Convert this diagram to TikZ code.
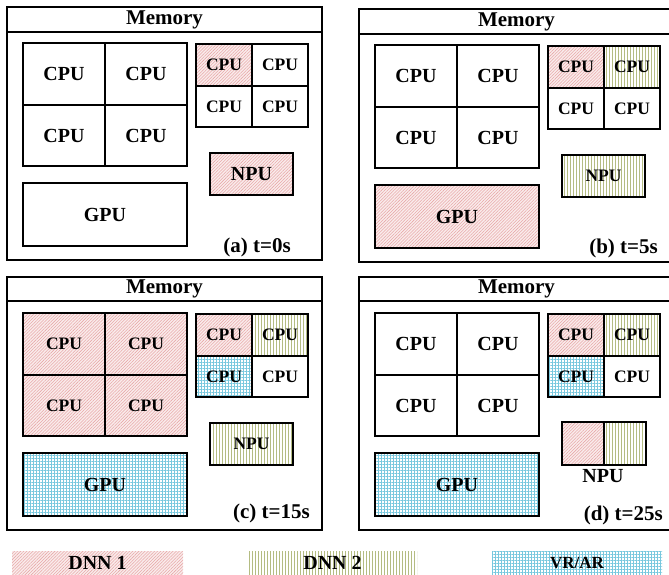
\documentclass[tikz,border=0pt]{standalone}
\usepackage{fontspec}
\setmainfont{Liberation Serif}
\usetikzlibrary{patterns.meta}
\definecolor{dnnAc}{RGB}{232,168,168}
\definecolor{dnnAbg}{RGB}{250,236,236}
\definecolor{dnnBc}{RGB}{180,188,130}
\definecolor{vrc}{RGB}{120,200,222}
\newcommand\cellbox[7]{\node[cellb,#6,minimum width={#4pt-#2pt},minimum height={#5pt-#3pt}] (#1) at ({(#2+#4)/2},{(#3+#5)/2}) {#7};}
\tikzset{
  cellb/.style={draw=black, line width=1.6pt, inner sep=0pt, outer sep=0pt},
  plain/.style={fill=white},
  dnnA/.style={preaction={fill=dnnAbg}, pattern={Lines[angle=45,distance=2.2pt,line width=0.55pt]}, pattern color=dnnAc},
  dnnB/.style={preaction={fill=white}, pattern={Lines[angle=90,distance=3pt,line width=0.8pt]}, pattern color=dnnBc},
  vrar/.style={preaction={fill=white}, pattern={Hatch[angle=0,distance=3pt,line width=0.45pt]}, pattern color=vrc},
  fb/.style={font=\bfseries\fontsize{20}{20}\selectfont},
  fs/.style={font=\bfseries\fontsize{17.5}{17.5}\selectfont},
  frame/.style={draw=black, line width=1.8pt, inner sep=0pt, outer sep=0pt, minimum width=315pt, minimum height=253pt},
  membar/.style={draw=black, line width=1.8pt, inner sep=0pt, outer sep=0pt, minimum width=315pt, minimum height=25pt, font=\bfseries\fontsize{21}{21}\selectfont},
  lbl/.style={font=\bfseries\fontsize{21}{21}\selectfont, anchor=east, inner sep=0pt},
  legtxt/.style={inner sep=0pt, outer sep=0pt, minimum height=24pt},
}
\begin{document}
\begin{tikzpicture}[x=1pt,y=-1pt]
\useasboundingbox (0,0) rectangle (669,575);
\clip (0,0) rectangle (669,575);
\fill[white] (0,0) rectangle (669,575);
% ---------- panel (a)
\begin{scope}
\node[frame] (aF) at (164.5,133.5) {};
\node[membar] (aM) at (164.5,19.5) {Memory};
\cellbox{aC1}{23}{43}{105}{105}{plain,fb}{CPU}
\cellbox{aC2}{105}{43}{187}{105}{plain,fb}{CPU}
\cellbox{aC3}{23}{105}{105}{166}{plain,fb}{CPU}
\cellbox{aC4}{105}{105}{187}{166}{plain,fb}{CPU}
\cellbox{aS1}{196}{44}{252}{86}{dnnA,fs}{CPU}
\cellbox{aS2}{252}{44}{308}{86}{plain,fs}{CPU}
\cellbox{aS3}{196}{86}{252}{127}{plain,fs}{CPU}
\cellbox{aS4}{252}{86}{308}{127}{plain,fs}{CPU}
\cellbox{aN}{210}{153}{293}{195}{dnnA,fb}{NPU}
\cellbox{aG}{23}{183}{187}{246}{plain,fb}{GPU}
\node[lbl] (aL) at (291,247) {(a) t=0s};
\end{scope}
% ---------- panel (b)
\begin{scope}[shift={(352,2)}]
\node[frame] (bF) at (164.5,133.5) {};
\node[membar] (bM) at (164.5,19.5) {Memory};
\cellbox{bC1}{23}{43}{105}{105}{plain,fb}{CPU}
\cellbox{bC2}{105}{43}{187}{105}{plain,fb}{CPU}
\cellbox{bC3}{23}{105}{105}{166}{plain,fb}{CPU}
\cellbox{bC4}{105}{105}{187}{166}{plain,fb}{CPU}
\cellbox{bS1}{196}{44}{252}{86}{dnnA,fs}{CPU}
\cellbox{bS2}{252}{44}{308}{86}{dnnB,fs}{CPU}
\cellbox{bS3}{196}{86}{252}{127}{plain,fs}{CPU}
\cellbox{bS4}{252}{86}{308}{127}{plain,fs}{CPU}
\cellbox{bN}{210}{153}{293}{195}{dnnB,fs}{NPU}
\cellbox{bG}{23}{183}{187}{246}{dnnA,fb}{GPU}
\node[lbl] (bL) at (306,246) {(b) t=5s};
\end{scope}
% ---------- panel (c)
\begin{scope}[shift={(0,270)}]
\node[frame] (cF) at (164.5,133.5) {};
\node[membar,minimum height=24pt] (cM) at (164.5,19) {Memory};
\cellbox{cC1}{23}{43}{105}{105}{dnnA,fs}{CPU}
\cellbox{cC2}{105}{43}{187}{105}{dnnA,fs}{CPU}
\cellbox{cC3}{23}{105}{105}{166}{dnnA,fs}{CPU}
\cellbox{cC4}{105}{105}{187}{166}{dnnA,fs}{CPU}
\cellbox{cS1}{196}{44}{252}{86}{dnnA,fs}{CPU}
\cellbox{cS2}{252}{44}{308}{86}{dnnB,fs}{CPU}
\cellbox{cS3}{196}{86}{252}{127}{vrar,fs}{CPU}
\cellbox{cS4}{252}{86}{308}{127}{plain,fs}{CPU}
\cellbox{cN}{210}{153}{293}{195}{dnnB,fs}{NPU}
\cellbox{cG}{23}{183}{187}{246}{vrar,fb}{GPU}
\node[lbl] (cL) at (310,243) {(c) t=15s};
\end{scope}
% ---------- panel (d)
\begin{scope}[shift={(352,270)}]
\node[frame] (dF) at (164.5,133.5) {};
\node[membar,minimum height=24pt] (dM) at (164.5,19) {Memory};
\cellbox{dC1}{23}{43}{105}{105}{plain,fb}{CPU}
\cellbox{dC2}{105}{43}{187}{105}{plain,fb}{CPU}
\cellbox{dC3}{23}{105}{105}{166}{plain,fb}{CPU}
\cellbox{dC4}{105}{105}{187}{166}{plain,fb}{CPU}
\cellbox{dS1}{196}{44}{252}{86}{dnnA,fs}{CPU}
\cellbox{dS2}{252}{44}{308}{86}{dnnB,fs}{CPU}
\cellbox{dS3}{196}{86}{252}{127}{vrar,fs}{CPU}
\cellbox{dS4}{252}{86}{308}{127}{plain,fs}{CPU}
\cellbox{dN1}{210}{152}{252}{195}{dnnA}{}
\cellbox{dN2}{252}{152}{294}{195}{dnnB}{}
\node[fb, inner sep=0pt] (dNL) at (251,206) {NPU};
\cellbox{dG}{23}{183}{187}{246}{vrar,fb}{GPU}
\node[lbl] (dL) at (311,245) {(d) t=25s};
\end{scope}
% ---------- legend
\node[legtxt, dnnA, minimum width=171pt, font=\bfseries\fontsize{20}{20}\selectfont] (lg1) at (97.5,563) {DNN 1};
\node[legtxt, dnnB, minimum width=169pt, font=\bfseries\fontsize{20}{20}\selectfont] (lg2) at (332.5,563) {DNN 2};
\node[legtxt, vrar, minimum width=170pt, font=\bfseries\fontsize{17}{17}\selectfont] (lg3) at (577,563) {VR/AR};
\end{tikzpicture}
\end{document}
